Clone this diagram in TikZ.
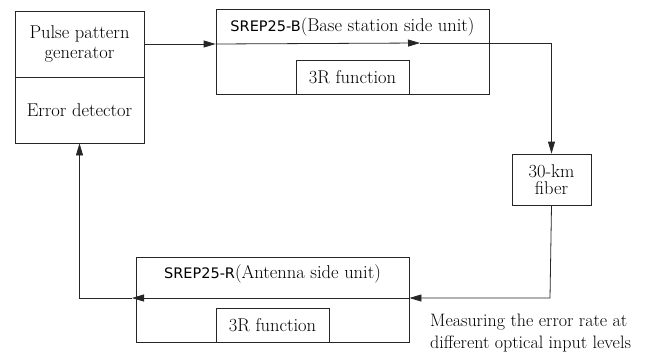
\documentclass[tikz,border=0pt]{standalone}
\usepackage{fontspec}
\newfontfamily\dvs{DejaVu Sans}
\usetikzlibrary{arrows.meta,calc}
\newcommand{\sanspart}[1]{{\dvs\fontsize{14.5}{18}\selectfont #1}}
\begin{document}
\begin{tikzpicture}[x=1pt,y=-1pt,
  box/.style={draw=black!85,line width=0.8pt,inner sep=0pt},
  conn/.style={line width=0.8pt,draw=black!85},
  arr/.style={conn,-{Triangle[length=12pt,width=7pt]}},
  txt/.style={font=\fontsize{18.5}{20}\selectfont,align=center}]
\useasboundingbox (0,0) rectangle (660,356);
% left box
\node[box,minimum width=129pt,minimum height=66pt,txt] (gen) at (79.5,44) {Pulse pattern\\generator};
\node[box,minimum width=129pt,minimum height=66pt,txt] (det) at (79.5,110) {Error detector};
% base station unit
\node[box,minimum width=273pt,minimum height=85pt] (B) at (352.5,51.5) {};
\node[anchor=base,inner sep=0pt,txt] (Bt) at (352.5,31.5) {\sanspart{SREP25-B}(Base station side unit)};
\node[box,minimum width=113pt,minimum height=34pt,txt] (B3) at (352.5,77) {3R function};
% fiber
\node[box,minimum width=79pt,minimum height=51pt,txt,font=\fontsize{18.5}{17.5}\selectfont] (fib) at (551.5,179.5) {30-km\\fiber};
% antenna unit
\node[box,minimum width=273pt,minimum height=85pt] (R) at (272.5,299.5) {};
\node[anchor=base,inner sep=0pt,txt] (Rt) at (272.5,278.5) {\sanspart{SREP25-R}(Antenna side unit)};
\node[box,minimum width=113pt,minimum height=34pt,txt] (R3) at (272.5,325) {3R function};
% note
\node[anchor=base west,inner sep=0pt,align=left,font=\fontsize{18}{21.5}\selectfont] (note) at (430,348) {Measuring the error rate at\\different optical input levels};
% connectors
\coordinate (a1) at (420,43);
\coordinate (b1) at (132,298);
\coordinate (b0) at (550,298);
\draw[arr] (gen.east) -- (gen.east -| B.west);
\draw[arr] (gen.east -| B.west) -- (a1);
\draw[arr] (a1) -| (fib.north);
\draw[arr] (fib.south) -- (b0) -- (b0 -| R.east);
\draw[arr] (b0 -| R.east) -- (b1);
\draw[arr] (b1) -| (det.south);
\end{tikzpicture}
\end{document}
